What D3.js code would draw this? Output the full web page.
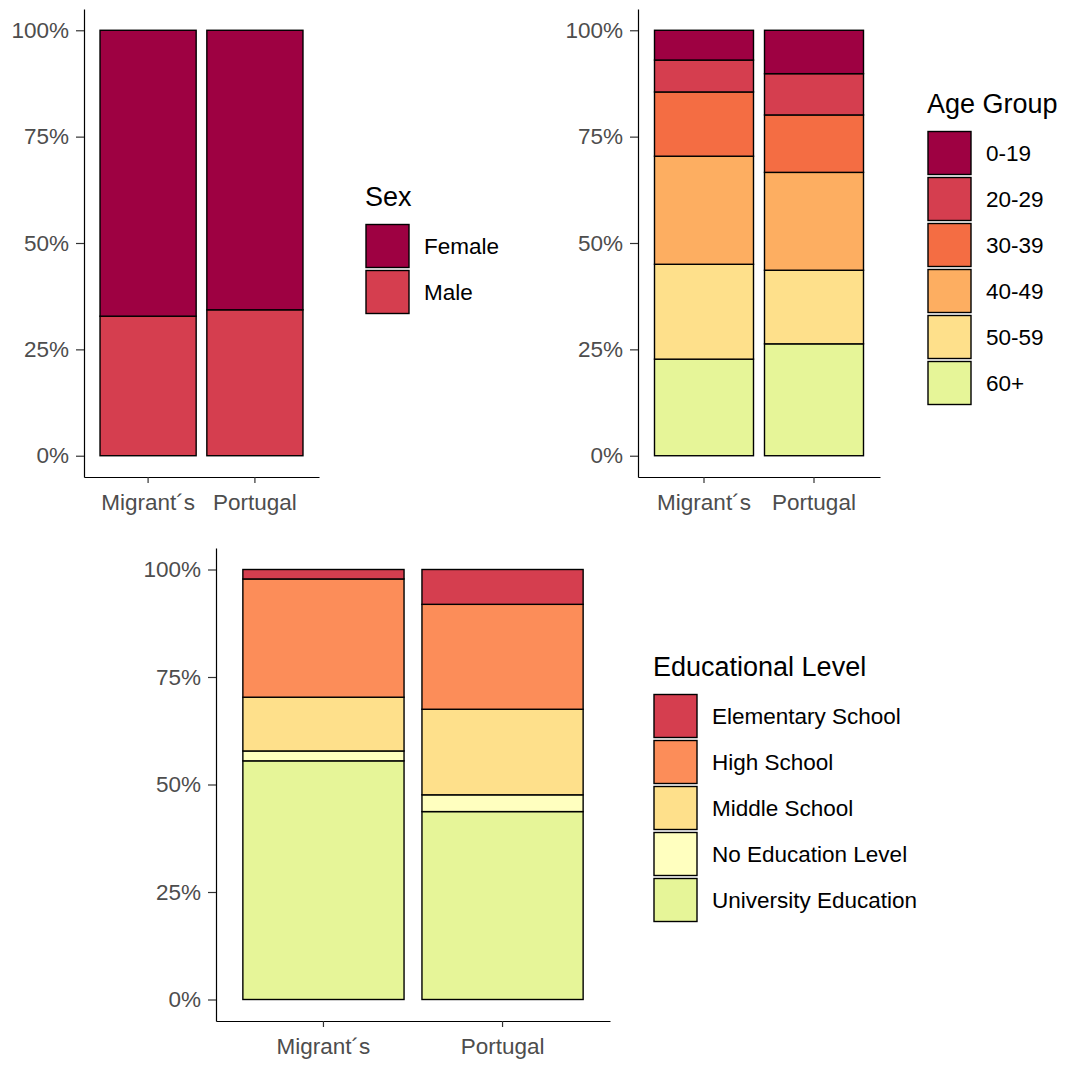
<!DOCTYPE html>
<html>
<head>
<meta charset="utf-8">
<script src="https://cdn.jsdelivr.net/npm/d3@7"></script>
<style>
  body { margin: 0; background: #fff; }
  svg text { font-family: "Liberation Sans", Arial, sans-serif; }
</style>
</head>
<body>
<div id="chart"></div>
<script>
// categories on the x axis
const groups = ["Migrant´s", "Portugal"];

// sex shares (%), Migrant´s / Portugal
const sexLevels = ["Female", "Male"];
const female = [67.2, 65.7];
const male = [32.8, 34.3];
const sexColors = ["#9E0142", "#D53E4F"];

// age group shares (%)
const ageLevels = ["0-19", "20-29", "30-39", "40-49", "50-59", "60+"];
const age0to19 = [7.0, 10.2];
const age20to29 = [7.5, 9.7];
const age30to39 = [15.1, 13.5];
const age40to49 = [25.4, 23.0];
const age50to59 = [22.3, 17.3];
const age60plus = [22.7, 26.3];
const ageColors = ["#9E0142", "#D53E4F", "#F46D43", "#FDAE61", "#FEE08B", "#E6F598"];

// educational level shares (%)
const eduLevels = ["Elementary School", "High School", "Middle School", "No Education Level", "University Education"];
const elementary = [2.2, 8.1];
const highSchool = [27.5, 24.4];
const middleSchool = [12.5, 19.9];
const noEducation = [2.3, 3.9];
const university = [55.5, 43.7];
const eduColors = ["#D53E4F", "#FC8D59", "#FEE08B", "#FFFFBF", "#E6F598"];

const yTicks = [0, 0.25, 0.5, 0.75, 1];

function buildRows(levels, columns) {
    return groups.map((g, i) => {
        const row = { group: g };
        levels.forEach((lv, j) => { row[lv] = columns[j][i]; });
        return row;
    });
}

const panels = [
    { title: "Sex", levels: sexLevels, colors: sexColors,
      rows: buildRows(sexLevels, [female, male]),
      left: 84, right: 319, top: 9, bottom: 477, legendX: 366, legendY: 206 },
    { title: "Age Group", levels: ageLevels, colors: ageColors,
      rows: buildRows(ageLevels, [age0to19, age20to29, age30to39, age40to49, age50to59, age60plus]),
      left: 638, right: 880, top: 9, bottom: 477, legendX: 928, legendY: 113 },
    { title: "Educational Level", levels: eduLevels, colors: eduColors,
      rows: buildRows(eduLevels, [elementary, highSchool, middleSchool, noEducation, university]),
      left: 216, right: 610, top: 548, bottom: 1021, legendX: 654, legendY: 676 }
];

const width = 1067;
const height = 1066;
const textSize = 22.5;
const titleSize = 27;

const svg = d3.select('#chart')
    .append('svg')
    .attr('width', width)
    .attr('height', height);

panels.forEach(p => drawPanel(p));

function drawPanel(p) {
    const g = svg.append('g');

    const x = d3.scaleBand()
        .domain(groups)
        .range([p.left, p.right])
        .paddingInner(0.1)
        .paddingOuter(0.15);

    // ggplot style 5% expansion around [0, 1]
    const y = d3.scaleLinear()
        .domain([-0.05, 1.05])
        .range([p.bottom, p.top]);

    const color = d3.scaleOrdinal().domain(p.levels).range(p.colors);

    // first level sits on top, so stack in reverse order
    const series = d3.stack()
        .keys(p.levels.slice().reverse())
        .offset(d3.stackOffsetExpand)(p.rows);

    g.selectAll('g.layer')
        .data(series)
        .enter()
        .append('g')
        .attr('class', 'layer')
        .attr('fill', d => color(d.key))
        .selectAll('rect')
        .data(d => d)
        .enter()
        .append('rect')
        .attr('x', d => x(d.data.group))
        .attr('y', d => y(d[1]))
        .attr('width', x.bandwidth())
        .attr('height', d => y(d[0]) - y(d[1]))
        .attr('stroke', '#000')
        .attr('stroke-width', 1.4);

    const yAxis = g.append('g')
        .attr('transform', `translate(${p.left},0)`)
        .call(d3.axisLeft(y)
            .tickValues(yTicks)
            .tickFormat(d3.format('.0%'))
            .tickSize(8)
            .tickSizeOuter(0)
            .tickPadding(7));

    const xAxis = g.append('g')
        .attr('transform', `translate(0,${p.bottom})`)
        .call(d3.axisBottom(x)
            .tickSize(6)
            .tickSizeOuter(0)
            .tickPadding(11));

    [yAxis, xAxis].forEach(ax => {
        ax.select('.domain').attr('stroke', '#000').attr('stroke-width', 1.2);
        ax.selectAll('.tick line').attr('stroke', '#333').attr('stroke-width', 1.2);
        ax.selectAll('.tick text')
            .attr('fill', '#4D4D4D')
            .attr('font-size', textSize)
            .attr('font-family', '"Liberation Sans", Arial, sans-serif');
    });

    // legend
    const legend = g.append('g');
    legend.append('text')
        .attr('x', p.legendX - 1)
        .attr('y', p.legendY)
        .attr('font-size', titleSize)
        .attr('fill', '#000')
        .text(p.title);

    const keySize = 43;
    const keyStep = 46;
    const items = legend.selectAll('g.item')
        .data(p.levels)
        .enter()
        .append('g')
        .attr('class', 'item')
        .attr('transform', (d, i) => `translate(${p.legendX},${p.legendY + 18.5 + i * keyStep})`);

    items.append('rect')
        .attr('width', keySize)
        .attr('height', keySize)
        .attr('fill', d => color(d))
        .attr('stroke', '#000')
        .attr('stroke-width', 1.4);

    items.append('text')
        .attr('x', 58)
        .attr('y', keySize / 2)
        .attr('dy', '0.35em')
        .attr('font-size', textSize)
        .attr('fill', '#000')
        .text(d => d);
}
</script>
</body>
</html>
